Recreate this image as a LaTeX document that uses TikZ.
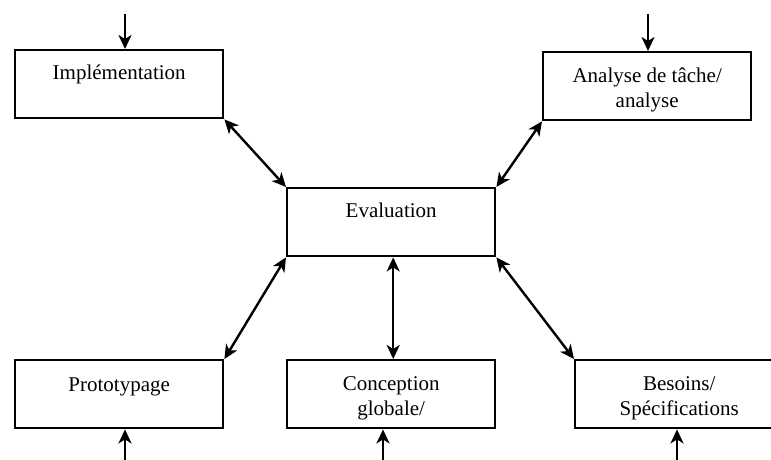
\documentclass[tikz,border=0pt]{standalone}
\usepackage{fontspec}
\setmainfont{Liberation Serif}
\usetikzlibrary{arrows.meta}
\begin{document}
\begin{tikzpicture}[x=1pt,y=-1pt,
  stage/.style={draw, line width=2.4pt, minimum width=208pt, minimum height=68pt, inner sep=0pt, anchor=north west},
  caption/.style={anchor=base, align=center, inner sep=0pt, font=\fontsize{21}{25}\selectfont},
  tip/.style={Stealth[length=14pt,width=13pt,inset=4pt]},
  link/.style={line width=2.4pt, {Stealth[length=14pt,width=13pt,inset=4pt]}-{Stealth[length=14pt,width=13pt,inset=4pt]}},
  feed/.style={line width=2.4pt, -{Stealth[length=14pt,width=13pt,inset=4pt]}}]
  \clip (0,0) rectangle (771,460);

  % boxes
  \node[stage] (impl) at (14,49) {};
  \node[stage] (ana)  at (542,51) {};
  \node[stage] (eval) at (286,187) {};
  \node[stage] (proto) at (14,359) {};
  \node[stage] (conc) at (286,359) {};
  \node[stage] (bes)  at (574,359) {};

  % captions (base anchor sits on the last line)
  \node[caption] (impl-t) at ([yshift=-31pt]impl.north) {Implémentation};
  \node[caption] (ana-t) at ([yshift=-56pt]ana.north) {Analyse de tâche/\\analyse};
  \node[caption] (eval-t) at ([yshift=-30pt]eval.north) {Evaluation};
  \node[caption] (proto-t) at ([yshift=-32pt]proto.north) {Prototypage};
  \node[caption] (conc-t) at ([yshift=-56pt]conc.north) {Conception\\globale/};
  \node[caption] (bes-t) at ([yshift=-56pt]bes.north) {Besoins/\\Spécifications};

  % links to the evaluation box
  \draw[link] (impl.south east) -- (eval.north west);
  \draw[link] (ana.south west) -- (eval.north east);
  \draw[link] (proto.north east) -- (eval.south west);
  \draw[link] (bes.north west) -- (eval.south east);
  \draw[link] ([xshift=2pt]eval.south) -- ([xshift=2pt]conc.north);

  % incoming and outgoing flows
  \coordinate (impl-in) at (125,14);
  \coordinate (ana-in) at (648,14);
  \coordinate (proto-in) at (125,462);
  \coordinate (conc-in) at (383,462);
  \coordinate (bes-in) at (677,462);
  \draw[feed] (impl-in) -- (impl-in |- impl.north);
  \draw[feed] (ana-in) -- (ana-in |- ana.north);
  \draw[feed] (proto-in) -- (proto-in |- proto.south);
  \draw[feed] (conc-in) -- (conc-in |- conc.south);
  \draw[feed] (bes-in) -- (bes-in |- bes.south);
\end{tikzpicture}
\end{document}
